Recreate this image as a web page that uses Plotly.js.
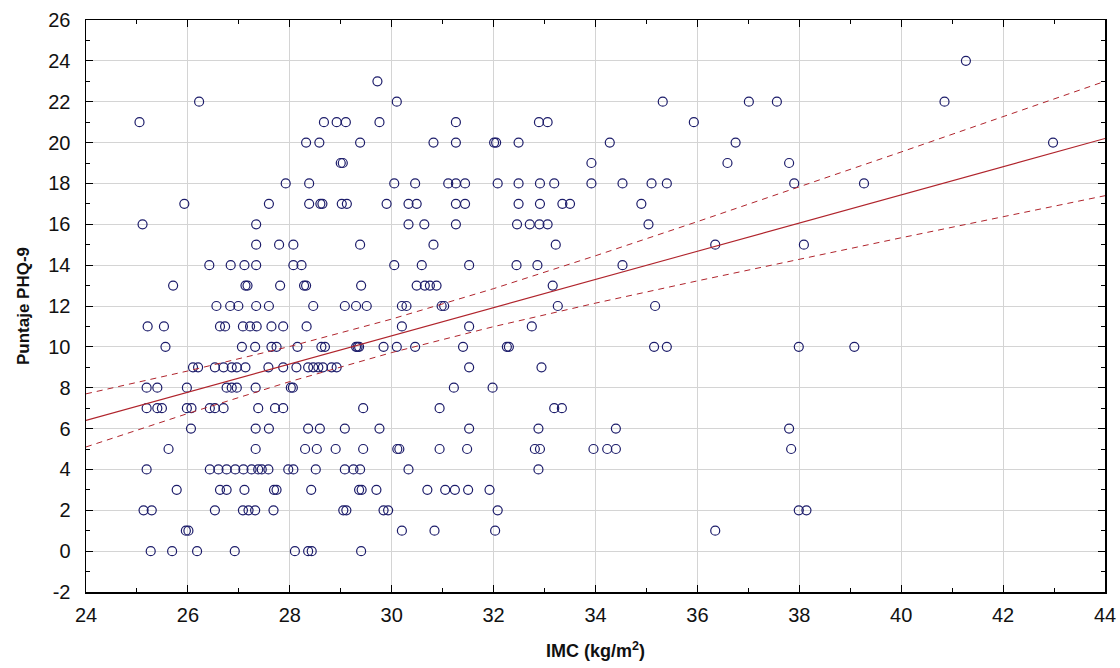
<!DOCTYPE html>
<html>
<head>
<meta charset="utf-8">
<script src="https://cdn.plot.ly/plotly-3.0.1.min.js"></script>
<style>html,body{margin:0;padding:0;background:#fff;}#chart{width:1120px;height:668px;}</style>
</head>
<body>
<div id="chart"></div>
<script>
// PHQ-9 score levels and the IMC values of the points on each level
const phqLevels = [0,1,2,3,4,5,6,7,8,9,10,11,12,13,14,15,16,17,18,19,20,21,22,23,24];
const imcByLevel = [
  [25.27,25.69,26.18,26.92,28.1,28.36,28.43,29.4],
  [25.96,26.01,30.2,30.84,32.03,36.35],
  [25.13,25.29,26.53,27.08,27.19,27.32,27.68,29.05,29.11,29.84,29.93,32.08,37.99,38.14],
  [25.78,26.63,26.76,27.11,27.69,27.74,28.42,29.36,29.41,29.7,30.7,31.05,31.24,31.5,31.92],
  [25.19,26.43,26.6,26.76,26.93,27.09,27.25,27.38,27.45,27.58,27.97,28.07,28.51,29.08,29.25,29.38,30.33,32.88],
  [25.62,27.33,28.3,28.53,28.9,29.44,30.11,30.15,30.94,31.48,32.81,32.91,33.96,34.23,34.4,37.84],
  [26.06,27.33,27.59,28.36,28.59,29.08,29.76,31.52,32.88,34.4,37.8],
  [25.19,25.4,25.49,25.98,26.07,26.43,26.53,26.7,27.38,27.71,27.87,29.44,30.94,33.19,33.34],
  [25.19,25.4,25.98,26.76,26.86,26.96,27.33,28.02,28.06,31.22,31.98],
  [26.1,26.2,26.53,26.7,26.86,26.96,27.13,27.58,27.87,28.13,28.36,28.46,28.56,28.65,28.82,28.92,31.52,32.94],
  [25.56,27.06,27.32,27.64,27.74,28.15,28.62,28.69,29.3,29.33,29.36,29.84,30.1,30.46,31.4,32.26,32.3,35.15,35.4,37.99,39.08],
  [25.21,25.53,26.63,26.73,27.08,27.22,27.35,27.64,27.87,28.33,30.2,31.52,32.75],
  [26.56,26.83,26.99,27.34,27.59,28.46,29.08,29.3,29.51,30.2,30.29,30.98,31.03,33.26,35.17],
  [25.71,27.13,27.17,27.81,28.28,28.32,29.4,30.49,30.65,30.75,30.88,33.16],
  [26.42,26.84,27.11,27.34,28.07,28.23,30.05,30.59,31.52,32.45,32.86,34.53],
  [27.34,27.79,28.07,29.38,30.82,33.22,36.35,38.09],
  [25.11,27.34,30.33,30.64,31.26,32.46,32.71,32.9,33.06,35.04],
  [25.93,27.59,28.38,28.6,28.64,29.02,29.12,29.9,30.33,30.49,31.26,31.44,32.49,32.91,33.35,33.5,34.9],
  [27.92,28.38,30.05,30.46,31.11,31.26,31.44,32.08,32.49,32.91,33.19,33.92,34.53,35.1,35.4,37.9,39.27],
  [29.0,29.04,33.92,36.59,37.8],
  [28.32,28.58,29.38,30.82,31.26,32.01,32.05,32.49,34.28,36.75,42.98],
  [25.05,28.67,28.92,29.1,29.76,31.26,32.89,33.06,35.93],
  [26.22,30.1,35.32,37.01,37.56,40.85],
  [29.72],
  [41.27]
];
// Regression line and 95% confidence band
const fitX   = [24, 26, 28, 30, 32, 34, 36, 38, 40, 42, 44];
const fitY   = [6.4, 7.78, 9.16, 10.54, 11.92, 13.3, 14.68, 16.06, 17.44, 18.82, 20.2];
const upperY = [7.7, 8.82, 10.02, 11.36, 12.85, 14.46, 16.13, 17.83, 19.54, 21.27, 23.0];
const lowerY = [5.1, 6.74, 8.30, 9.72, 10.99, 12.14, 13.23, 14.29, 15.34, 16.37, 17.4];
const xTicks = [24,26,28,30,32,34,36,38,40,42,44];
const yTicks = [-2,0,2,4,6,8,10,12,14,16,18,20,22,24,26];

const imc = [], phq = [];
phqLevels.forEach((lv, i) => imcByLevel[i].forEach(v => { imc.push(v); phq.push(lv); }));

const red = '#b0242c';
const traces = [
  {x: imc, y: phq, type: 'scatter', mode: 'markers',
   marker: {symbol: 'circle-open', size: 9, color: '#1c1c6a', line: {width: 1.2, color: '#1c1c6a'}}},
  {x: fitX, y: upperY, type: 'scatter', mode: 'lines', line: {color: red, width: 1, dash: '6px,5px'}},
  {x: fitX, y: lowerY, type: 'scatter', mode: 'lines', line: {color: red, width: 1, dash: '6px,5px'}},
  {x: fitX, y: fitY, type: 'scatter', mode: 'lines', line: {color: red, width: 1.1}}
];
const tickFont = {family: 'Liberation Sans, Arial', size: 20, color: '#111'};
const layout = {
  width: 1120, height: 668,
  margin: {l: 86, r: 15, t: 20, b: 76},
  paper_bgcolor: '#fff', plot_bgcolor: '#fff',
  showlegend: false,
  xaxis: {
    range: [24, 44], tickvals: xTicks, ticktext: xTicks.map(String),
    ticks: 'inside', ticklen: 7, tickcolor: '#000', ticklabelstandoff: 4,
    minor: {dtick: 1, tick0: 24, ticks: 'inside', ticklen: 4, tickcolor: '#000', showgrid: false},
    showgrid: true, gridcolor: '#d4d4d4', gridwidth: 1,
    showline: true, linecolor: '#000', linewidth: 1.5, mirror: 'allticks',
    zeroline: false, tickfont: tickFont,
    title: {text: '<b>IMC (kg/m<sup>2</sup>)</b>', font: {family: 'Liberation Sans, Arial', size: 18, color: '#111'}, standoff: 20}
  },
  yaxis: {
    range: [-2, 26], tickvals: yTicks, ticktext: yTicks.map(String),
    ticks: 'inside', ticklen: 7, tickcolor: '#000', ticklabelstandoff: 10,
    minor: {dtick: 1, tick0: 0, ticks: 'inside', ticklen: 4, tickcolor: '#000', showgrid: false},
    showgrid: true, gridcolor: '#d4d4d4', gridwidth: 1,
    showline: true, linecolor: '#000', linewidth: 1.5, mirror: 'allticks',
    zeroline: false, tickfont: tickFont,
    title: {text: '<b>Puntaje PHQ-9</b>', font: {family: 'Liberation Sans, Arial', size: 17, color: '#111'}, standoff: 14}
  }
};
Plotly.newPlot('chart', traces, layout, {displayModeBar: false, staticPlot: true});
</script>
</body>
</html>
